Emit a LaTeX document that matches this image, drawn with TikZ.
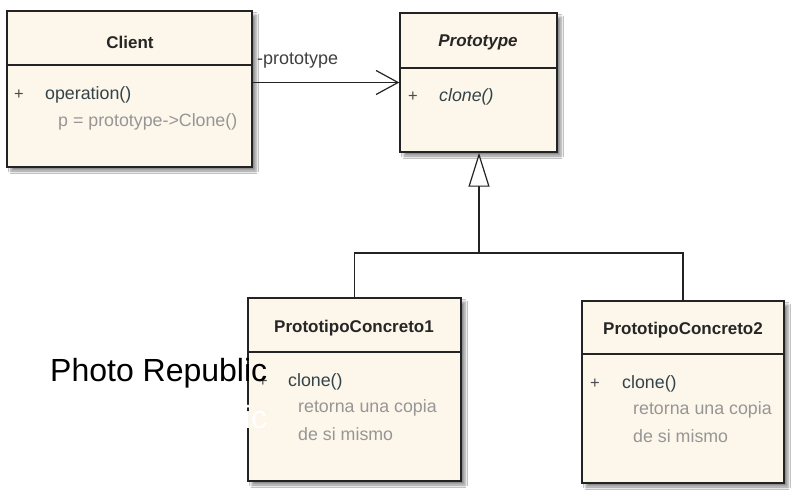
\documentclass[tikz,border=0pt]{standalone}
\usepackage{fontspec}
\setmainfont{Liberation Sans}
\usetikzlibrary{arrows.meta,shadows.blur}
\definecolor{boxfill}{RGB}{253,246,234}
\definecolor{boxline}{RGB}{35,35,35}
\definecolor{optext}{RGB}{50,68,74}
\definecolor{cmtext}{RGB}{150,150,150}
\tikzset{
  umlbox/.style={draw=boxline, line width=1.4pt, fill=boxfill, rectangle, inner sep=0pt,
    blur shadow={shadow xshift=4pt, shadow yshift=-4pt, shadow blur radius=2.5pt, shadow opacity=45}},
  divider/.style={draw=boxline, line width=1.3pt},
  title/.style={font=\fontsize{17}{20}\selectfont\bfseries, text=black!85, inner sep=0pt},
  member/.style={font=\fontsize{17.8}{20}\selectfont, text=optext, anchor=west, inner sep=0pt},
  plus/.style={font=\fontsize{16.5}{19}\selectfont, text=black!70, anchor=west, inner sep=0pt},
  comment/.style={font=\fontsize{17.8}{20}\selectfont, text=cmtext, anchor=west, inner sep=0pt},
  assoc/.style={draw=boxline, line width=1.4pt, -{Straight Barb[length=22pt, width=24pt, line width=1.2pt]}},
  inherit/.style={draw=boxline, line width=1.4pt, -{Triangle[open, fill=white, length=34pt, width=21pt, line width=1.2pt]}},
  genline/.style={draw=boxline, line width=1.4pt},
}
\begin{document}
\begin{tikzpicture}[x=1pt,y=-1pt]
\useasboundingbox[fill=white] (0,0) rectangle (800,500);

% boxes
\node[umlbox, minimum width=245pt, minimum height=156pt] (client) at (129.5,89) {};
\node[umlbox, minimum width=157pt, minimum height=139pt] (proto) at (478.5,82.5) {};
\node[umlbox, minimum width=213pt, minimum height=183pt] (pc1) at (354.5,389.5) {};
\node[umlbox, minimum width=202pt, minimum height=182pt] (pc2) at (683,392) {};

% dividers
\draw[divider] (client.west |- 0,65) -- (client.east |- 0,65);
\draw[divider] (proto.west |- 0,68) -- (proto.east |- 0,68);
\draw[divider] (pc1.west |- 0,352) -- (pc1.east |- 0,352);
\draw[divider] (pc2.west |- 0,354) -- (pc2.east |- 0,354);

% Client
\node[title] (clientT) at (130,42) {Client};
\node[plus] (clientP) at (14,95) {+};
\node[member] (clientOp) at (45,95) {operation()};
\node[comment] (clientC) at (58,122) {p = prototype->Clone()};

% Prototype
\node[title, font=\fontsize{17}{20}\selectfont\bfseries\itshape] (protoT) at (478,42) {Prototype};
\node[plus] (protoP) at (408,97) {+};
\node[member, font=\fontsize{17.8}{20}\selectfont\itshape] (protoOp) at (439,97) {clone()};

% PrototipoConcreto1
\node[title] (pc1T) at (354,328) {PrototipoConcreto1};
\node[plus] (pc1P) at (258,382) {+};
\node[member] (pc1Op) at (288,382) {clone()};
\node[comment] (pc1C1) at (298,408) {retorna una copia};
\node[comment] (pc1C2) at (298,434) {de si mismo};

% PrototipoConcreto2
\node[title] (pc2T) at (683,330) {PrototipoConcreto2};
\node[plus] (pc2P) at (590,384) {+};
\node[member] (pc2Op) at (622,384) {clone()};
\node[comment] (pc2C1) at (633,410) {retorna una copia};
\node[comment] (pc2C2) at (633,436) {de si mismo};

% association
\draw[assoc] (client.east |- proto.west) -- (proto.west);
\node[font=\fontsize{18}{20}\selectfont, text=black!75, anchor=west, inner sep=0pt] (roleL) at (257,61) {-prototype};

% generalization
\coordinate (j) at (479,253);
\draw[genline] (pc1.north) |- (j) -| (pc2.north);
\draw[inherit] (j) -- (proto.south -| j);

% watermark
\node[font=\fontsize{32}{36}\selectfont, text=black, anchor=base west, inner sep=0pt] (wm) at (50,381) {Photo Republic};
\node[font=\fontsize{32}{36}\selectfont, text=white, anchor=base west, inner sep=0pt] (wm2) at (50,428) {Photo Republic};
\end{tikzpicture}
\end{document}
